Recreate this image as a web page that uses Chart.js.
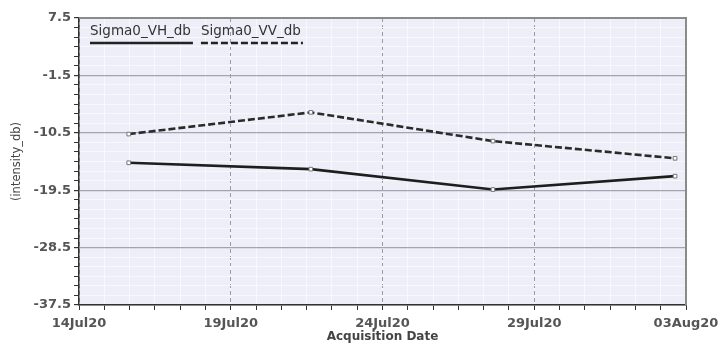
<!DOCTYPE html>
<html>
<head>
<meta charset="utf-8">
<title>Sigma0 time series</title>
<script src="https://cdn.jsdelivr.net/npm/chart.js@4/dist/chart.umd.min.js"></script>
<style>
  html, body { margin: 0; padding: 0; background: #fff; }
  #wrap { width: 718px; height: 344px; }
</style>
</head>
<body>
<div id="wrap"><canvas id="sigmaChart" width="718" height="344"></canvas></div>
<script>
  'use strict';

  // Acquisition dates (UTC) and backscatter values in dB.
  var startDate   = '2020-07-14T00:00';
  var acqDates    = ['2020-07-15T15:20', '2020-07-21T15:20', '2020-07-27T15:20', '2020-08-02T15:20'];
  var vhValues    = [-15.2, -16.2, -19.4, -17.3];
  var vvValues    = [-10.7, -7.3, -11.8, -14.5];
  var dateLabels  = ['14Jul20', '19Jul20', '24Jul20', '29Jul20', '03Aug20'];
  var yLabels     = [7.5, -1.5, -10.5, -19.5, -28.5, -37.5];
  var seriesNames = ['Sigma0_VH_db', 'Sigma0_VV_db'];

  var DAY = 86400000;
  var t0 = Date.parse(startDate + 'Z');
  function dayOffset(d) { return (Date.parse(d + 'Z') - t0) / DAY; }

  var xMin = 0;
  var xMax = (dateLabels.length - 1) * 5;   // labelled every 5 days
  var xSub = 6;                             // minor ticks between labels
  var yMax = yLabels[0];
  var yMin = yLabels[yLabels.length - 1];
  var ySub = 6;

  function points(values) {
    return values.map(function (v, i) { return { x: dayOffset(acqDates[i]), y: v }; });
  }

  var font = 'DejaVu Sans';

  // Lavender plot background, frame on top/right, and the underlined legend.
  var decor = {
    id: 'decor',
    beforeDraw: function (chart) {
      var a = chart.chartArea, ctx = chart.ctx;
      ctx.save();
      ctx.fillStyle = '#eeeef8';
      ctx.fillRect(a.left, a.top, a.right - a.left, a.bottom - a.top);
      ctx.restore();
    },
    afterDraw: function (chart) {
      var a = chart.chartArea, ctx = chart.ctx;
      ctx.save();
      ctx.strokeStyle = '#8a8a8a';
      ctx.lineWidth = 2;
      ctx.beginPath();
      ctx.moveTo(a.left, a.top);
      ctx.lineTo(a.right, a.top);
      ctx.lineTo(a.right, a.bottom);
      ctx.stroke();

      var x = a.left + 11;
      ctx.font = '13.5px "' + font + '"';
      ctx.textBaseline = 'middle';
      chart.data.datasets.forEach(function (ds) {
        var w = ctx.measureText(ds.label).width;
        ctx.fillStyle = '#333';
        ctx.fillText(ds.label, x, a.top + 13);
        ctx.strokeStyle = '#222';
        ctx.lineWidth = 2.5;
        ctx.setLineDash(ds.borderDash || []);
        ctx.beginPath();
        ctx.moveTo(x, a.top + 25);
        ctx.lineTo(x + w + 2, a.top + 25);
        ctx.stroke();
        ctx.setLineDash([]);
        x += w + 10;
      });
      ctx.restore();
    }
  };

  function evenTicks(min, max, n) {
    var out = [];
    for (var i = 0; i <= n; i++) out.push({ value: min + (max - min) * i / n });
    return out;
  }

  new Chart(document.getElementById('sigmaChart'), {
    type: 'line',
    data: {
      datasets: [
        {
          label: seriesNames[0],
          data: points(vhValues),
          borderColor: '#1e1e1e',
          borderWidth: 2.6,
          pointStyle: 'rect',
          pointRadius: 2.6,
          pointBackgroundColor: '#fff',
          pointBorderColor: '#777',
          pointBorderWidth: 1,
          tension: 0
        },
        {
          label: seriesNames[1],
          data: points(vvValues),
          borderColor: '#2a2a2a',
          borderWidth: 2.6,
          borderDash: [7, 3],
          pointStyle: 'rect',
          pointRadius: 2.6,
          pointBackgroundColor: '#fff',
          pointBorderColor: '#777',
          pointBorderWidth: 1,
          tension: 0
        }
      ]
    },
    options: {
      responsive: false,
      animation: false,
      layout: { padding: { top: 18, right: 32, left: 0, bottom: 0 } },
      plugins: { legend: { display: false }, tooltip: { enabled: false } },
      scales: {
        x: {
          type: 'linear',
          min: xMin,
          max: xMax,
          afterBuildTicks: function (s) { s.ticks = evenTicks(xMin, xMax, (dateLabels.length - 1) * xSub); },
          afterFit: function (s) {
            s.height = 39;
            // the last date label may run into the right margin
            s.paddingLeft = 0;
            s.paddingRight = 0;
          },
          grid: {
            color: '#f8f8fc',
            lineWidth: 1,
            tickColor: '#333',
            tickLength: 5
          },
          border: { color: '#333', width: 1.5 },
          ticks: {
            autoSkip: false,
            maxRotation: 0,
            minRotation: 0,
            padding: 6,
            color: '#555',
            font: { family: font, size: 13, weight: 'bold' },
            callback: function (v, i) { return i % xSub === 0 ? dateLabels[i / xSub] : ''; }
          },
          title: {
            display: true,
            text: 'Acquisition Date',
            color: '#444',
            padding: { top: 0, bottom: 0 },
            font: { family: font, size: 12, weight: 'bold' }
          }
        },
        xMajor: {
          type: 'linear',
          position: 'bottom',
          min: xMin,
          max: xMax,
          afterBuildTicks: function (s) { s.ticks = evenTicks(xMin, xMax, dateLabels.length - 1); },
          afterFit: function (s) { s.height = 0; s.paddingLeft = 0; s.paddingRight = 0; },
          grid: { color: '#9a9aa8', lineWidth: 1, drawTicks: false },
          border: { display: false, dash: [4, 3] },
          ticks: { display: false }
        },
        y: {
          type: 'linear',
          min: yMin,
          max: yMax,
          afterBuildTicks: function (s) { s.ticks = evenTicks(yMin, yMax, (yLabels.length - 1) * ySub); },
          afterFit: function (s) { s.width = 79; s.paddingTop = 0; s.paddingBottom = 0; },
          grid: {
            color: function (c) { return c.index % ySub === 0 ? '#a4a4b0' : '#f8f8fc'; },
            lineWidth: function (c) { return c.index % ySub === 0 ? 1.2 : 1; },
            tickColor: '#333',
            tickLength: 5
          },
          border: { color: '#333', width: 1.5 },
          ticks: {
            autoSkip: false,
            padding: 3,
            color: '#555',
            font: { family: font, size: 13, weight: 'bold' },
            callback: function (v, i) { return i % ySub === 0 ? v.toFixed(1) : ''; }
          },
          title: {
            display: true,
            text: '(intensity_db)',
            color: '#444',
            padding: { top: 10, bottom: 0 },
            font: { family: font, size: 11.5 }
          }
        }
      }
    },
    plugins: [decor]
  });
</script>
</body>
</html>
